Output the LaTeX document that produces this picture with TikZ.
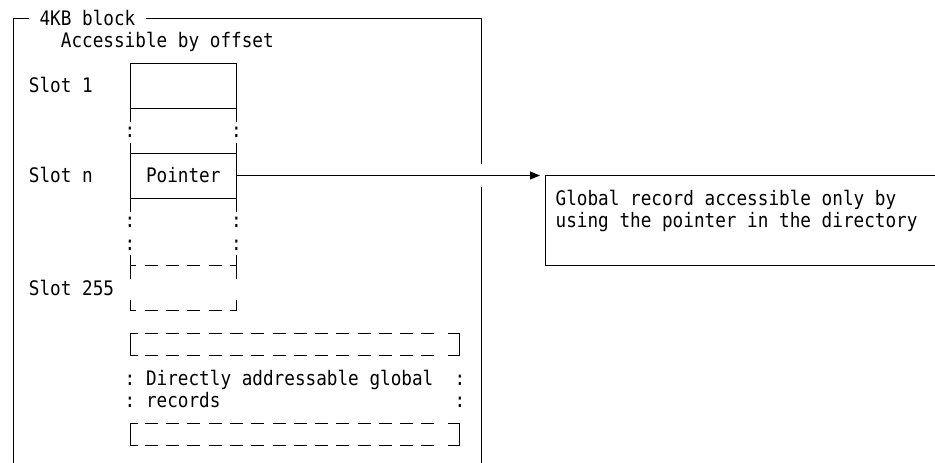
\documentclass[tikz,border=0pt]{standalone}
\usepackage{fontspec}
\usetikzlibrary{arrows.meta}
\newfontfamily\monofnt[FakeStretch=0.884]{DejaVu Sans Mono}
\newcommand\mycx[1]{(13+10.64*(#1))}
\newcommand\mylx[1]{(7.68+10.64*(#1))}
\newcommand\myry[1]{(18+22.5*(#1))}
\begin{document}
\begin{tikzpicture}[x=1pt,y=-1pt,
  txt/.style={font=\monofnt\fontsize{20}{22.5}\selectfont, anchor=base west, inner sep=0pt, outer sep=0pt},
  ln/.style={line width=0.9pt, line cap=butt},
  boxnode/.style={draw, line width=0.9pt, inner sep=0pt, outer sep=0pt, anchor=north west}]
\useasboundingbox (0,0) rectangle (935,463);

% ---- outer 4KB block ----
\draw[ln] ({\mycx{0}},464) -- ({\mycx{0}},{\myry{0}}) -- (29,{\myry{0}});
\draw[ln] (146,{\myry{0}}) -- ({\mycx{44}},{\myry{0}}) -- ({\mycx{44}},{\myry{7}-11.25});
\draw[ln] ({\mycx{44}},{\myry{7}+11.25}) -- ({\mycx{44}},464);
\node[txt] (title) at ({\mylx{3}},{\myry{0}+7}) {4KB block};
\node[txt] (acc) at ({\mylx{5}},{\myry{1}+7}) {Accessible by offset};

% ---- slot labels ----
\node[txt] (s1) at ({\mylx{2}},{\myry{3}+7}) {Slot 1};
\node[txt] (sn) at ({\mylx{2}},{\myry{7}+7}) {Slot n};
\node[txt] (s255) at ({\mylx{2}},{\myry{12}+7}) {Slot 255};

% ---- slot column ----
\foreach \c in {11,21}{
  \draw[ln] ({\mycx{\c}},{\myry{2}}) -- ({\mycx{\c}},{\myry{4}+14});
  \draw[ln] ({\mycx{\c}},{\myry{6}-10.5}) -- ({\mycx{\c}},{\myry{8}+14});
  \draw[ln] ({\mycx{\c}},{\myry{11}-10.5}) -- ({\mycx{\c}},{\myry{11}+13});
  \draw[ln] ({\mycx{\c}},{\myry{13}-10.5}) -- ({\mycx{\c}},{\myry{13}});
  \foreach \r in {5,9,10}{
    \node[txt] at ({\mylx{\c}},{\myry{\r}+7}) {:};
  }
}
\foreach \r in {2,4}{
  \draw[ln] ({\mycx{11}},{\myry{\r}}) -- ({\mycx{21}},{\myry{\r}});
}
% pointer slot
\node[boxnode, minimum width=106.4pt, minimum height=45pt] (ptr) at ({\mycx{11}},{\myry{6}}) {};
\node[txt] (ptrtxt) at ({\mylx{13}},{\myry{7}+7}) {Pointer};

% dashed slot 255
\foreach \r in {11,13}{
  \draw[ln] ({\mycx{11}},{\myry{\r}}) -- ++(6,0);
  \draw[ln] ({\mycx{21}},{\myry{\r}}) -- ++(-6,0);
  \foreach \c in {13,15,17,19}{
    \draw[ln] ({\mycx{\c}-6.5},{\myry{\r}}) -- ++(13,0);
  }
}

% ---- directly addressable global records ----
\foreach \r in {14,18}{
  \draw[ln] ({\mycx{11}+8},{\myry{\r}}) -- ({\mycx{11}},{\myry{\r}}) -- ({\mycx{11}},{\myry{\r+1}}) -- ({\mycx{11}+8},{\myry{\r+1}});
  \draw[ln] ({\mycx{42}-12},{\myry{\r}}) -- ({\mycx{42}},{\myry{\r}}) -- ({\mycx{42}},{\myry{\r+1}}) -- ({\mycx{42}-12},{\myry{\r+1}});
  \foreach \c in {13,15,...,39}{
    \draw[ln] ({\mycx{\c}-6.5},{\myry{\r}}) -- ++(13,0);
    \draw[ln] ({\mycx{\c}-6.5},{\myry{\r+1}}) -- ++(13,0);
  }
}
\foreach \r in {16,17}{
  \node[txt] at ({\mylx{11}},{\myry{\r}+7}) {:};
  \node[txt] at ({\mylx{42}},{\myry{\r}+7}) {:};
}
\node[txt] (dag) at ({\mylx{13}},{\myry{16}+7}) {Directly addressable global};
\node[txt] (rec) at ({\mylx{13}},{\myry{17}+7}) {records};

% ---- global record box ----
\node[boxnode, minimum width=395pt, minimum height=90pt] (glob) at ({\mycx{50}},{\myry{7}}) {};
\node[txt] (g1) at ({\mylx{51.5}},{\myry{8}+7}) {Global record accessible only by};
\node[txt] (g2) at ({\mylx{51.5}},{\myry{9}+7}) {using the pointer in the directory};

% ---- arrow ----
\draw[ln, -{Triangle[length=10pt,width=8pt]}] (ptr.east) -- ([xshift=-5pt]glob.north west);
\end{tikzpicture}
\end{document}
